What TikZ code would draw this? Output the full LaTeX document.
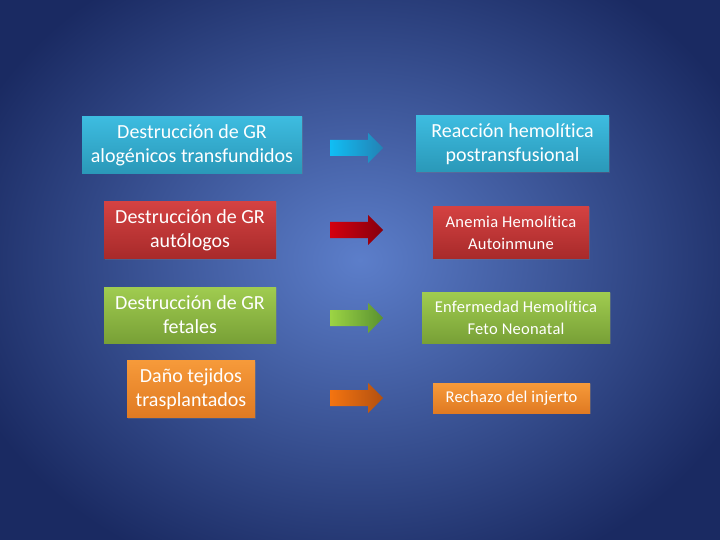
\documentclass[tikz,border=0pt]{standalone}
\usepackage{fontspec}
\setmainfont[Ligatures={NoCommon}]{Carlito}
\newfontfamily\spacedfont[LetterSpace=1.5,Ligatures={NoCommon}]{Carlito}
\usetikzlibrary{shadows}
\definecolor{bgin}{HTML}{5C7ECA}
\definecolor{bgout}{HTML}{1A2A62}
\definecolor{cyanT}{HTML}{3DBCE0}
\definecolor{cyanB}{HTML}{2A98B8}
\definecolor{redT}{HTML}{D44242}
\definecolor{redB}{HTML}{A82A2A}
\definecolor{greenT}{HTML}{A0CC50}
\definecolor{greenB}{HTML}{78A036}
\definecolor{orT}{HTML}{F69A3A}
\definecolor{orB}{HTML}{E07A22}
\definecolor{acyanL}{HTML}{10BEF4}
\definecolor{acyanR}{HTML}{2382B4}
\definecolor{aredL}{HTML}{D4000E}
\definecolor{aredR}{HTML}{86000E}
\definecolor{agreenL}{HTML}{9CD444}
\definecolor{agreenR}{HTML}{5A9230}
\definecolor{aorL}{HTML}{F47410}
\definecolor{aorR}{HTML}{B25010}
\tikzset{
  box/.style={draw=none, inner sep=0pt, align=center, text=white,
    font=\fontsize{20}{24}\selectfont,
    drop shadow={shadow xshift=1pt, shadow yshift=-1pt, opacity=0.3}},
  sbox/.style={box, font=\spacedfont\fontsize{16.5}{22}\selectfont},
  cyanbox/.style={top color=cyanT, bottom color=cyanB},
  redbox/.style={top color=redT, bottom color=redB},
  greenbox/.style={top color=greenT, bottom color=greenB},
  orbox/.style={top color=orT, bottom color=orB},
}
\newcommand{\blockarrow}[3]{%
  \path[left color=#2, right color=#3]
    (330,#1-8) -- (368,#1-8) -- (368,#1-15) -- (383,#1) -- (368,#1+15)
    -- (368,#1+8) -- (330,#1+8) -- cycle;}
\begin{document}
\begin{tikzpicture}[x=1pt,y=-1pt]
\useasboundingbox (0,0) rectangle (720,540);
\clip (0,0) rectangle (720,540);
\shade[inner color=bgin, outer color=bgout] (-60,-80) rectangle (780,600);

\node[box, cyanbox, minimum width=220pt, minimum height=57pt] (l1) at (192,145) {Destrucción de GR\\alogénicos transfundidos};
\node[box, cyanbox, minimum width=193pt, minimum height=56pt] (r1) at (512.5,144) {Reacción hemolítica\\postransfusional};

\node[box, redbox, minimum width=172pt, minimum height=57pt] (l2) at (190,230) {Destrucción de GR\\autólogos};
\node[sbox, redbox, minimum width=156pt, minimum height=52pt] (r2) at (511,232.5) {Anemia Hemolítica\\Autoinmune};

\node[box, greenbox, minimum width=172pt, minimum height=56pt] (l3) at (190,315) {Destrucción de GR\\fetales};
\node[sbox, greenbox, minimum width=188pt, minimum height=51pt] (r3) at (516,317.5) {Enfermedad Hemolítica\\Feto Neonatal};

\node[box, orbox, minimum width=128pt, minimum height=57pt] (l4) at (191,389) {Daño tejidos\\trasplantados};
\node[sbox, orbox, minimum width=157pt, minimum height=30pt] (r4) at (511.5,398) {Rechazo del injerto};

\blockarrow{148}{acyanL}{acyanR}
\blockarrow{230}{aredL}{aredR}
\blockarrow{318}{agreenL}{agreenR}
\blockarrow{398}{aorL}{aorR}
\end{tikzpicture}
\end{document}
